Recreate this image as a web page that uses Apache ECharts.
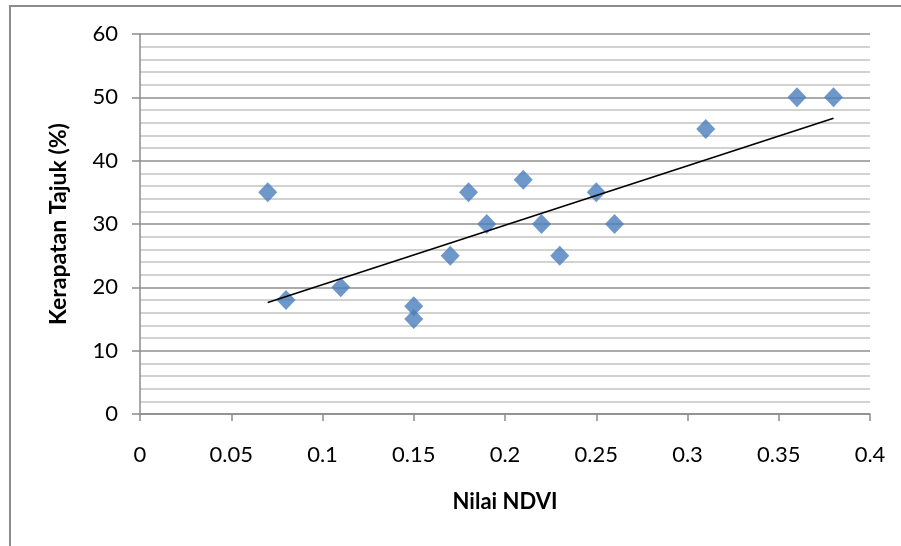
<!DOCTYPE html>
<html>
<head>
<meta charset="utf-8">
<script src="https://cdn.jsdelivr.net/npm/echarts@6/dist/echarts.min.js"></script>
<style>
html,body{margin:0;padding:0;background:#fff;}
#chart{width:901px;height:546px;}
</style>
</head>
<body>
<div id="chart"></div>
<script>
// Data
var ndvi = [0.07, 0.08, 0.11, 0.15, 0.15, 0.17, 0.18, 0.19, 0.21, 0.22, 0.23, 0.25, 0.26, 0.31, 0.36, 0.38];
var kerapatan = [35, 18, 20, 17, 15, 25, 35, 30, 37, 30, 25, 35, 30, 45, 50, 50];
var trendX = [0.07, 0.38];
var trendY = [17.6, 46.7];
var xTickLabels = ['0', '0.05', '0.1', '0.15', '0.2', '0.25', '0.3', '0.35', '0.4'];
var yTickLabels = ['0', '10', '20', '30', '40', '50', '60'];
var xTitle = 'Nilai NDVI';
var yTitle = 'Kerapatan Tajuk (%)';

var points = ndvi.map(function (x, i) { return [x, kerapatan[i]]; });
var trend = trendX.map(function (x, i) { return [x, trendY[i]]; });

var FONT = 'Lato, "Open Sans", sans-serif';
var chart = echarts.init(document.getElementById('chart'), null, {renderer: 'canvas'});
chart.setOption({
  animation: false,
  backgroundColor: '#ffffff',
  graphic: [{
    type: 'rect', z: -10, silent: true,
    shape: {x: 10, y: 6, width: 1000, height: 700},
    style: {fill: 'none', stroke: '#8c8c8c', lineWidth: 2}
  }],
  grid: {left: 140, right: 31, top: 34, bottom: 132, containLabel: false},
  xAxis: {
    type: 'value', min: 0, max: 0.4, interval: 0.05,
    name: xTitle, nameLocation: 'middle', nameGap: 77,
    nameTextStyle: {fontFamily: FONT, fontWeight: 'bold', fontSize: 22, color: '#000'},
    axisLine: {show: true, lineStyle: {color: '#8c8c8c', width: 1.5}},
    axisTick: {show: true, length: 7, inside: false, lineStyle: {color: '#8c8c8c', width: 1.5}},
    axisLabel: {
      margin: 30, fontFamily: FONT, fontSize: 22, color: '#000',
      formatter: function (v) { return xTickLabels[Math.round(v / 0.05)]; }
    },
    splitLine: {show: false}
  },
  yAxis: {
    type: 'value', min: 0, max: 60, interval: 10,
    name: yTitle, nameLocation: 'middle', nameGap: 70, nameRotate: 90,
    nameTextStyle: {fontFamily: FONT, fontWeight: 'bold', fontSize: 23, color: '#000'},
    axisLine: {show: true, lineStyle: {color: '#8c8c8c', width: 1.5}},
    axisTick: {show: true, length: 8, inside: false, lineStyle: {color: '#8c8c8c', width: 1.5}},
    axisLabel: {
      margin: 22, fontFamily: FONT, fontSize: 22, color: '#000',
      formatter: function (v) { return yTickLabels[Math.round(v / 10)]; }
    },
    splitLine: {show: true, lineStyle: {color: '#8f8f8f', width: 1.5}},
    minorTick: {show: false, splitNumber: 5},
    minorSplitLine: {show: true, lineStyle: {color: '#c4c4c4', width: 1.5}}
  },
  series: [{
    type: 'scatter',
    data: points,
    symbol: 'diamond',
    symbolSize: [19, 20],
    itemStyle: {color: '#4a7ebb'},
    z: 3
  }, {
    type: 'line',
    data: trend,
    showSymbol: false,
    symbol: 'none',
    lineStyle: {color: '#000', width: 1.6},
    z: 4
  }]
});
</script>
</body>
</html>
